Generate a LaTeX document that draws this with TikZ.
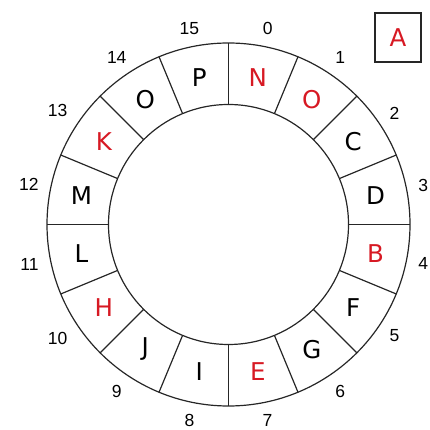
\documentclass[tikz,border=0pt]{standalone}
\usepackage{fontspec}
\usetikzlibrary{calc}
\setmainfont{DejaVu Sans}
\newfontfamily\numfont{Liberation Sans}
\definecolor{segred}{RGB}{215,25,35}
\begin{document}
\begin{tikzpicture}[x=1pt,y=1pt,
  ringline/.style={draw=black!85,line width=1.2pt},
  letter/.style={font=\fontsize{24.5}{24.5}\selectfont,inner sep=0pt},
  redletter/.style={letter,text=segred},
  numlabel/.style={font=\numfont\fontsize{17.5}{17.5}\selectfont,inner sep=0.5pt},
  ]
\useasboundingbox (0,0) rectangle (429,430);
\coordinate (c) at (228.5,205.5);
\draw[ringline] (c) circle[radius=181.5];
\draw[ringline] (c) circle[radius=120];
\foreach \k in {0,...,15}{
  \draw[ringline] ($(c)+({90-22.5*\k}:120)$) -- ($(c)+({90-22.5*\k}:181.5)$);
}
% letters
\foreach \k/\t/\s in {0/N/redletter,1/O/redletter,2/C/letter,3/D/letter,4/B/redletter,5/F/letter,6/G/letter,7/E/redletter,8/I/letter,9/J/letter,10/H/redletter,11/L/letter,12/M/letter,13/K/redletter,14/O/letter,15/P/letter}{
  \node[\s] (s\k) at ($(c)+({90-11.25-22.5*\k}:150)$) {\t};
}
% numbers
\foreach \k in {0,...,15}{
  \pgfmathsetmacro{\ang}{90-11.25-22.5*\k}
  \node[numlabel,anchor=\ang+180] (n\k) at ($(c)+(\ang:193)$) {\k};
}
\node[draw=black!85,line width=1.2pt,minimum width=46pt,minimum height=49pt,inner sep=0pt,font=\fontsize{24.5}{24.5}\selectfont,text=segred] (boxA) at (398,392.5) {A};
\end{tikzpicture}
\end{document}
